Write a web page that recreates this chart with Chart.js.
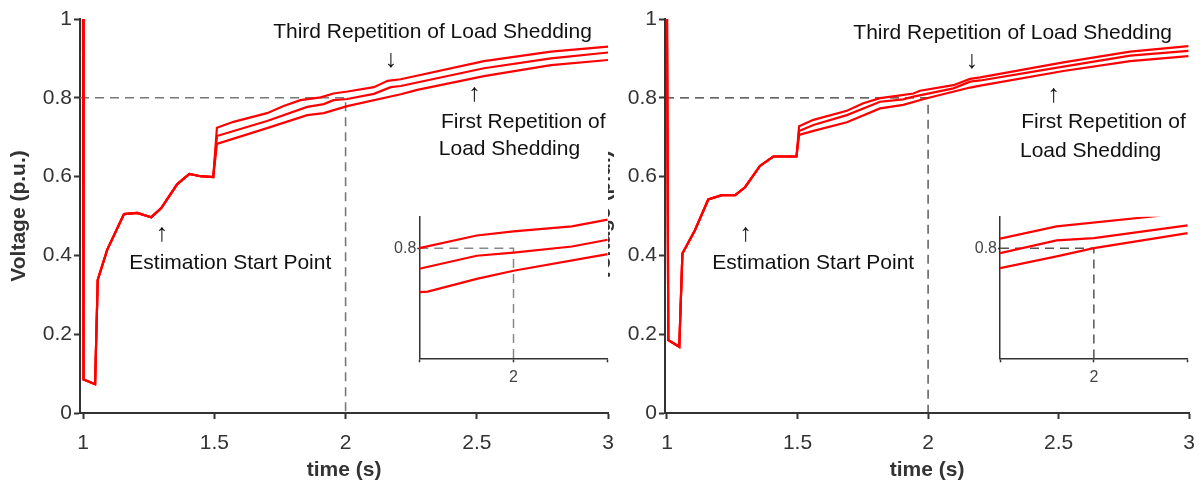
<!DOCTYPE html>
<html><head><meta charset="utf-8">
<script src="https://cdn.jsdelivr.net/npm/chart.js@4.4.0/dist/chart.umd.min.js"></script>
<style>
html,body{margin:0;padding:0;background:#fff;width:1203px;height:485px;overflow:hidden;position:relative;}
.box{position:absolute;}
</style></head><body>
<div class="box" style="left:0;top:0;width:626px;height:485px"><canvas id="cL" width="626" height="485"></canvas></div>
<div class="box" style="left:608px;top:0;width:599px;height:485px"><canvas id="cR" width="599" height="485"></canvas></div>
<div class="box" style="left:380px;top:200px;width:240px;height:200px"><canvas id="iL" width="240" height="200"></canvas></div>
<div class="box" style="left:960px;top:200px;width:243px;height:200px"><canvas id="iR" width="243" height="200"></canvas></div>
<script>
// ---------- tick labels ----------
const timeTicks = [1, 1.5, 2, 2.5, 3];
const timeTickLabels = ['1', '1.5', '2', '2.5', '3'];
const voltTicks = [0, 0.2, 0.4, 0.6, 0.8, 1];
const voltTickLabels = ['0', '0.2', '0.4', '0.6', '0.8', '1'];
const insetTimeTicks = [1.9, 2, 2.1];
const insetTimeLabels = ['', '2', ''];
const insetVoltTicks = [0.8];
const insetVoltLabels = ['0.8'];
const refTime = 2;
const refVolt = 0.8;

// ---------- left panel (main) ----------
const leftCommonT = [1.0, 1.002, 1.046, 1.056, 1.092, 1.156, 1.206, 1.26, 1.298, 1.359, 1.405, 1.447, 1.496];
const leftCommonV = [1.0, 0.085, 0.073, 0.338, 0.414, 0.505, 0.508, 0.497, 0.52, 0.581, 0.607, 0.601, 0.599];
const leftThirdT  = [1.51, 1.573, 1.701, 1.764, 1.828, 1.905, 1.954, 2.008, 2.108, 2.16, 2.21, 2.527, 2.782, 3.0];
const leftThirdV  = [0.724, 0.739, 0.761, 0.779, 0.794, 0.801, 0.811, 0.816, 0.827, 0.843, 0.847, 0.893, 0.917, 0.93];
const leftSecondT = [1.51, 1.701, 1.854, 1.917, 1.954, 2.006, 2.108, 2.172, 2.21, 2.527, 2.782, 3.0];
const leftSecondV = [0.703, 0.741, 0.777, 0.784, 0.794, 0.797, 0.810, 0.827, 0.830, 0.875, 0.900, 0.915];
const leftFirstT  = [1.51, 1.701, 1.854, 1.917, 2.006, 2.21, 2.273, 2.527, 2.782, 3.0];
const leftFirstV  = [0.683, 0.723, 0.756, 0.761, 0.779, 0.809, 0.82, 0.855, 0.883, 0.896];

// ---------- right panel (main) ----------
const rightCommonT = [1.0, 1.005, 1.047, 1.059, 1.107, 1.158, 1.21, 1.261, 1.299, 1.356, 1.407, 1.496];
const rightCommonV = [1.0, 0.185, 0.168, 0.405, 0.464, 0.542, 0.553, 0.553, 0.573, 0.627, 0.651, 0.651];
const rightThirdT  = [1.506, 1.561, 1.689, 1.752, 1.816, 1.88, 1.944, 1.969, 2.097, 2.161, 2.2, 2.518, 2.774, 2.997];
const rightThirdV  = [0.728, 0.744, 0.767, 0.786, 0.799, 0.805, 0.811, 0.818, 0.832, 0.848, 0.852, 0.890, 0.917, 0.931];
const rightSecondT = [1.506, 1.561, 1.689, 1.816, 1.905, 1.944, 2.097, 2.161, 2.2, 2.518, 2.774, 2.997];
const rightSecondV = [0.716, 0.731, 0.756, 0.790, 0.796, 0.803, 0.824, 0.841, 0.844, 0.879, 0.907, 0.919];
const rightFirstT  = [1.506, 1.561, 1.689, 1.816, 1.905, 1.995, 2.161, 2.2, 2.518, 2.774, 2.997];
const rightFirstV  = [0.706, 0.716, 0.738, 0.773, 0.782, 0.799, 0.826, 0.831, 0.868, 0.893, 0.906];

// ---------- insets ----------
const insetLeftThirdT  = [1.9, 1.961, 2.0, 2.062, 2.1];
const insetLeftThirdV  = [0.8001, 0.8095, 0.8125, 0.8163, 0.8213];
const insetLeftSecondT = [1.9, 1.961, 2.0, 2.062, 2.1];
const insetLeftSecondV = [0.7847, 0.7944, 0.7968, 0.8013, 0.8063];
const insetLeftFirstT  = [1.9, 1.909, 1.961, 2.0, 2.1];
const insetLeftFirstV  = [0.7673, 0.7677, 0.7772, 0.7832, 0.7956];
const insetRightThirdT  = [1.9, 1.9604, 2.0705];
const insetRightThirdV  = [0.8071, 0.8163, 0.8242];
const insetRightSecondT = [1.9, 1.9604, 2.0, 2.1];
const insetRightSecondV = [0.7964, 0.8058, 0.8076, 0.8170];
const insetRightFirstT  = [1.9, 1.9604, 2.0, 2.1];
const insetRightFirstV  = [0.7852, 0.7939, 0.8001, 0.8113];

// ---------- annotations ----------
const noteTexts = ['Third Repetition of Load Shedding', '\u2193', '\u2191', 'First Repetition of', 'Load Shedding', '\u2191', 'Estimation Start Point'];
const noteAlign = ['center', 'center', 'center', 'left', 'left', 'center', 'center'];
const noteBase  = ['alphabetic', 'middle', 'middle', 'alphabetic', 'alphabetic', 'middle', 'alphabetic'];
const noteSize  = [21, 25, 25, 21, 21, 25, 21];
const leftNoteX  = [2.331, 2.172, 2.49, 2.363, 2.355, 1.300, 1.561];
const leftNoteY  = [0.951, 0.895, 0.81, 0.7226, 0.655, 0.454, 0.3647];
const rightNoteX = [2.324, 2.167, 2.480, 2.357, 2.352, 1.301, 1.560];
const rightNoteY = [0.948, 0.892, 0.808, 0.7226, 0.6505, 0.454, 0.3647];

// ---------- helpers ----------
const FONT = "'Liberation Sans', Arial, sans-serif";
Chart.defaults.font.family = FONT;
const pts = (t, v) => t.map((x, i) => ({x, y: v[i]}));
const redLine = (data) => ({data, borderColor: '#ff0000', borderWidth: 2.2, pointRadius: 0, tension: 0, fill: false});
const refLine = (xMin, yMin, color, w) => ({
  data: [{x: xMin, y: refVolt}, {x: refTime, y: refVolt}, {x: refTime, y: yMin}],
  borderColor: color, borderWidth: w, borderDash: [9, 6], pointRadius: 0, tension: 0, fill: false
});

const notesPlugin = {
  id: 'notes',
  afterDatasetsDraw(chart, args, opts) {
    if (!opts || !opts.xs) return;
    const ctx = chart.ctx, xs = chart.scales.x, ys = chart.scales.y;
    ctx.save();
    ctx.fillStyle = '#111';
    noteTexts.forEach((t, i) => {
      ctx.font = noteSize[i] + 'px ' + FONT;
      ctx.textAlign = noteAlign[i];
      ctx.textBaseline = noteBase[i];
      ctx.fillText(t, xs.getPixelForValue(opts.xs[i]), ys.getPixelForValue(opts.ys[i]));
    });
    ctx.restore();
  }
};

function mainChart(id, xMin, yWidth, titlePad, lines, noteX, noteY, dashColor, dashW) {
  return new Chart(document.getElementById(id), {
    type: 'line',
    data: {datasets: [...lines.map(redLine), refLine(xMin, 0, dashColor, dashW)]},
    options: {
      responsive: false, animation: false,
      layout: {padding: {top: 19, right: 0, left: 0, bottom: 0}},
      plugins: {legend: {display: false}, tooltip: {enabled: false}, notes: {xs: noteX, ys: noteY}},
      scales: {
        x: {
          type: 'linear', min: xMin, max: 3,
          afterBuildTicks: s => { s.ticks = timeTicks.map(v => ({value: v})); },
          afterFit: s => { s.height = 72; },
          ticks: {callback: (v, i) => timeTickLabels[i], font: {size: 21}, color: '#333', padding: 12, maxRotation: 0, autoSkip: false},
          grid: {drawOnChartArea: false, drawTicks: true, tickLength: 6, tickWidth: 2, tickColor: '#333'},
          border: {display: true, color: '#333', width: 2},
          title: {display: true, text: 'time (s)', font: {size: 21, weight: 'bold'}, color: '#333', padding: {top: 0, bottom: 2}}
        },
        y: {
          type: 'linear', min: 0, max: 1,
          afterBuildTicks: s => { s.ticks = voltTicks.map(v => ({value: v})); },
          afterFit: s => { s.width = yWidth; },
          ticks: {callback: (v, i) => voltTickLabels[i], font: {size: 21}, color: '#333', padding: 2, autoSkip: false},
          grid: {drawOnChartArea: false, drawTicks: true, tickLength: 6, tickWidth: 2, tickColor: '#333'},
          border: {display: true, color: '#333', width: 2},
          title: {display: true, text: 'Voltage (p.u.)', font: {size: 21, weight: 'bold'}, color: '#333', padding: {top: titlePad, bottom: 0}}
        }
      }
    },
    plugins: [notesPlugin]
  });
}

function insetChart(id, yWidth, padRight, lines, dashColor) {
  return new Chart(document.getElementById(id), {
    type: 'line',
    data: {datasets: [...lines.map(redLine), refLine(1.9, 0.718, dashColor, 1.5)]},
    options: {
      responsive: false, animation: false,
      layout: {padding: {top: 16.7, right: padRight, left: 0, bottom: 0}},
      plugins: {legend: {display: false}, tooltip: {enabled: false}},
      scales: {
        x: {
          type: 'linear', min: 1.9, max: 2.1,
          afterBuildTicks: s => { s.ticks = insetTimeTicks.map(v => ({value: v})); },
          afterFit: s => { s.height = 41.7; },
          ticks: {callback: (v, i) => insetTimeLabels[i], font: {size: 16}, color: '#444', padding: 6, maxRotation: 0, autoSkip: false},
          grid: {drawOnChartArea: false, drawTicks: true, tickLength: 4, tickWidth: 1.5, tickColor: '#333'},
          border: {display: true, color: '#333', width: 1.5}
        },
        y: {
          type: 'linear', min: 0.718, max: 0.8235,
          afterBuildTicks: s => { s.ticks = insetVoltTicks.map(v => ({value: v})); },
          afterFit: s => { s.width = yWidth; },
          ticks: {callback: (v, i) => insetVoltLabels[i], font: {size: 16}, color: '#444', padding: 1, autoSkip: false},
          grid: {drawOnChartArea: false, drawTicks: true, tickLength: 2, tickWidth: 1.5, tickColor: '#333'},
          border: {display: true, color: '#333', width: 1.5}
        }
      }
    }
  });
}

mainChart('cL', 0.9885, 80, 6.4, [
  pts(leftCommonT.concat(leftThirdT), leftCommonV.concat(leftThirdV)),
  pts(leftCommonT.concat(leftSecondT), leftCommonV.concat(leftSecondV)),
  pts(leftCommonT.concat(leftFirstT), leftCommonV.concat(leftFirstV))
], leftNoteX, leftNoteY, '#777', 1.6);

mainChart('cR', 0.99234, 57, -16, [
  pts(rightCommonT.concat(rightThirdT), rightCommonV.concat(rightThirdV)),
  pts(rightCommonT.concat(rightSecondT), rightCommonV.concat(rightSecondV)),
  pts(rightCommonT.concat(rightFirstT), rightCommonV.concat(rightFirstV))
], rightNoteX, rightNoteY, '#333', 1.2);

insetChart('iL', 39.3, 12.3, [
  pts(insetLeftThirdT, insetLeftThirdV),
  pts(insetLeftSecondT, insetLeftSecondV),
  pts(insetLeftFirstT, insetLeftFirstV)
], '#888');

insetChart('iR', 40, 15.3, [
  pts(insetRightThirdT, insetRightThirdV),
  pts(insetRightSecondT, insetRightSecondV),
  pts(insetRightFirstT, insetRightFirstV)
], '#555');
</script>
</body></html>
